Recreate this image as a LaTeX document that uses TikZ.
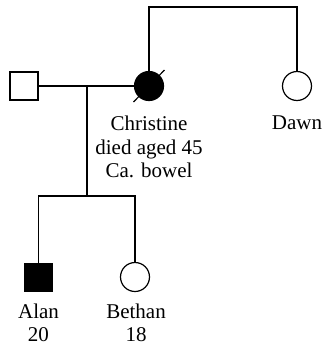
\documentclass[tikz,border=0pt]{standalone}
\usepackage{fontspec}
\setmainfont{Liberation Serif}
\begin{document}
\begin{tikzpicture}[x=1pt,y=-1pt,line width=1.2pt,
  male/.style={draw,rectangle,minimum size=28pt,inner sep=0pt,line width=1.2pt},
  female/.style={draw,circle,minimum size=29pt,inner sep=0pt,line width=1.2pt},
  affected/.style={fill=black},
  lbl/.style={align=center,inner sep=0pt,font=\fontsize{21}{23.5}\selectfont}]
\useasboundingbox (0,0) rectangle (322,346);
\node[male] (father) at (24,86) {};
\node[female,affected] (christine) at (149,86) {};
\node[female] (dawn) at (297,86) {};
\node[male,affected] (alan) at (38.5,277.5) {};
\node[female] (bethan) at (135,277) {};
\coordinate (mar) at (87,86);
\coordinate (sib) at (87,196);
\coordinate (sl1) at (133.5,102);
\coordinate (sl2) at (164.5,70);
\draw (father) -- (christine);
\draw (mar) -- (sib);
\draw (christine.north) |- (223,7) -| (dawn.north);
\draw (alan.north) |- (sib) -| (bethan.north);
\draw (sl1) -- (sl2);
\node[lbl] (lc) at (149,147) {Christine\\died aged 45\\Ca. bowel};
\node[lbl] (ld) at (297,123) {Dawn};
\node[lbl] (la) at (38.5,323) {Alan\\20};
\node[lbl] (lb) at (136,323) {Bethan\\18};
\end{tikzpicture}
\end{document}
